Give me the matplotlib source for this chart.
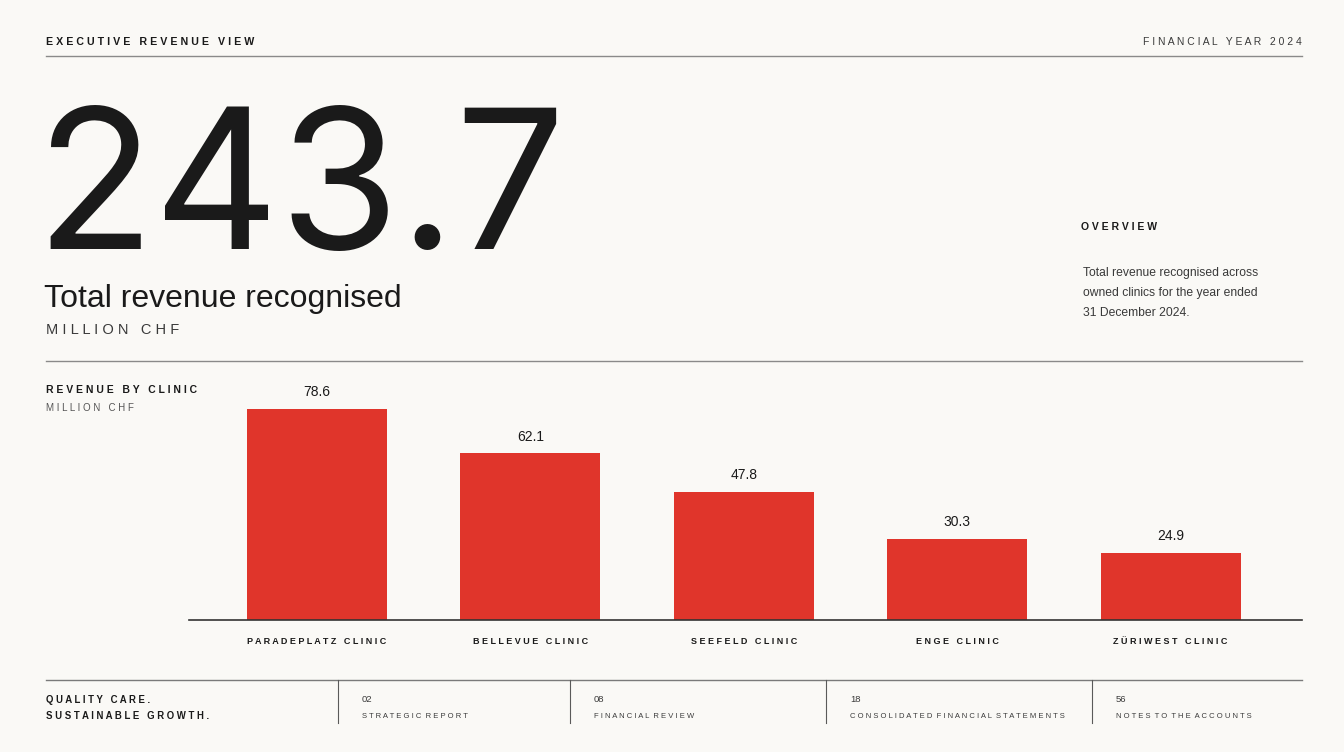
import matplotlib.pyplot as plt
from matplotlib.lines import Line2D

# data
clinics = ["Paradeplatz Clinic", "Bellevue Clinic", "Seefeld Clinic", "Enge Clinic", "Züriwest Clinic"]
revenue = [78.6, 62.1, 47.8, 30.3, 24.9]
total_revenue = 243.7
page_numbers = ["02", "08", "18", "56"]
sections = ["Strategic report", "Financial review", "Consolidated financial statements", "Notes to the accounts"]

W, H = 1344, 752
BG = "#faf9f6"
RED = "#e0352b"
INK = "#1a1a1a"
GREY = "#3a3a3a"

plt.rcParams['font.family'] = ['Liberation Sans', 'DejaVu Sans']


def spaced(s, gap=1, word_gap=3):
    # fake letter spacing: spaces between letters, wider ones between words
    words = s.upper().split(" ")
    return (" " * word_gap).join((" " * gap).join(w) for w in words)


def px(x, y):
    return x / W, 1 - y / H


def put(x, y, s, **kw):
    fx, fy = px(x, y)
    return fig.text(fx, fy, s, **kw)


def hline(y, x0=46, x1=1302, color="#8a8a8a", lw=1.0):
    fig.add_artist(Line2D([x0 / W, x1 / W], [1 - y / H, 1 - y / H], color=color, lw=lw))


def vline(x, y0, y1, color="#5a5a5a", lw=0.8):
    fig.add_artist(Line2D([x / W, x / W], [1 - y0 / H, 1 - y1 / H], color=color, lw=lw))


fig = plt.figure(figsize=(W / 100, H / 100), dpi=100, facecolor=BG)

# header
put(46, 42, spaced("Executive revenue view"), fontsize=7.7, fontweight="bold", color=INK, va="center")
put(1302, 42, spaced("Financial year 2024"), fontsize=7.5, color=GREY, va="center", ha="right")
hline(56)

# headline figure
put(35, 249, f"{total_revenue}", fontsize=140, color=INK, va="baseline", family=["Inter", "DejaVu Sans"])
put(44, 307, "Total revenue recognised", fontsize=23, color=INK, va="baseline")
put(46, 330, spaced("Million CHF"), fontsize=10.5, color=GREY, va="center")

# overview block
put(1081, 227, spaced("Overview"), fontsize=7.5, fontweight="bold", color=INK, va="center")
overview = ["Total revenue recognised across", "owned clinics for the year ended", "31 December 2024."]
for i, line in enumerate(overview):
    put(1083, 273 + 20 * i, line, fontsize=8.7, color=GREY, va="center")

hline(361)

# chart labels
put(46, 390, spaced("Revenue by clinic"), fontsize=7.5, fontweight="bold", color=INK, va="center")
put(46, 408, spaced("Million CHF"), fontsize=7, color="#555555", va="center")

ax = fig.add_axes([189 / W, 1 - 620 / H, (1302 - 189) / W, (620 - 380) / H])
ax.set_facecolor(BG)
xs = list(range(len(clinics)))
bars = ax.bar(xs, revenue, width=0.656, color=RED)
for b, v in zip(bars, revenue):
    ax.annotate(f"{v}", (b.get_x() + b.get_width() / 2, v), xytext=(0, 7), textcoords="offset points",
                ha="center", va="bottom", fontsize=10, color=INK)
ax.set_xlim(-0.6, 4.616)
ax.set_ylim(0, 89.4)
ax.set_xticks(xs)
ax.set_xticklabels([spaced(c, word_gap=3) for c in clinics], fontsize=6.5, fontweight="bold", color=INK)
ax.tick_params(axis="x", length=0, pad=12)
ax.set_yticks([])
for side in ["top", "left", "right"]:
    ax.spines[side].set_visible(False)
ax.spines["bottom"].set_color("#333333")
ax.spines["bottom"].set_linewidth(1.2)

# footer
hline(680, color="#7a7a7a")
put(46, 700, spaced("Quality care."), fontsize=6.9, fontweight="bold", color=INK, va="center")
put(46, 716, spaced("Sustainable growth."), fontsize=6.9, fontweight="bold", color=INK, va="center")
sep_x = [338, 570, 826, 1092]
for sx, num, sec in zip(sep_x, page_numbers, sections):
    vline(sx, 680, 723)
    put(sx + 24, 700, num, fontsize=6.8, color=GREY, va="center")
    put(sx + 24, 716, spaced(sec, word_gap=2), fontsize=5.5, color=GREY, va="center")

fig.savefig("out.png", dpi=100, facecolor=BG)
